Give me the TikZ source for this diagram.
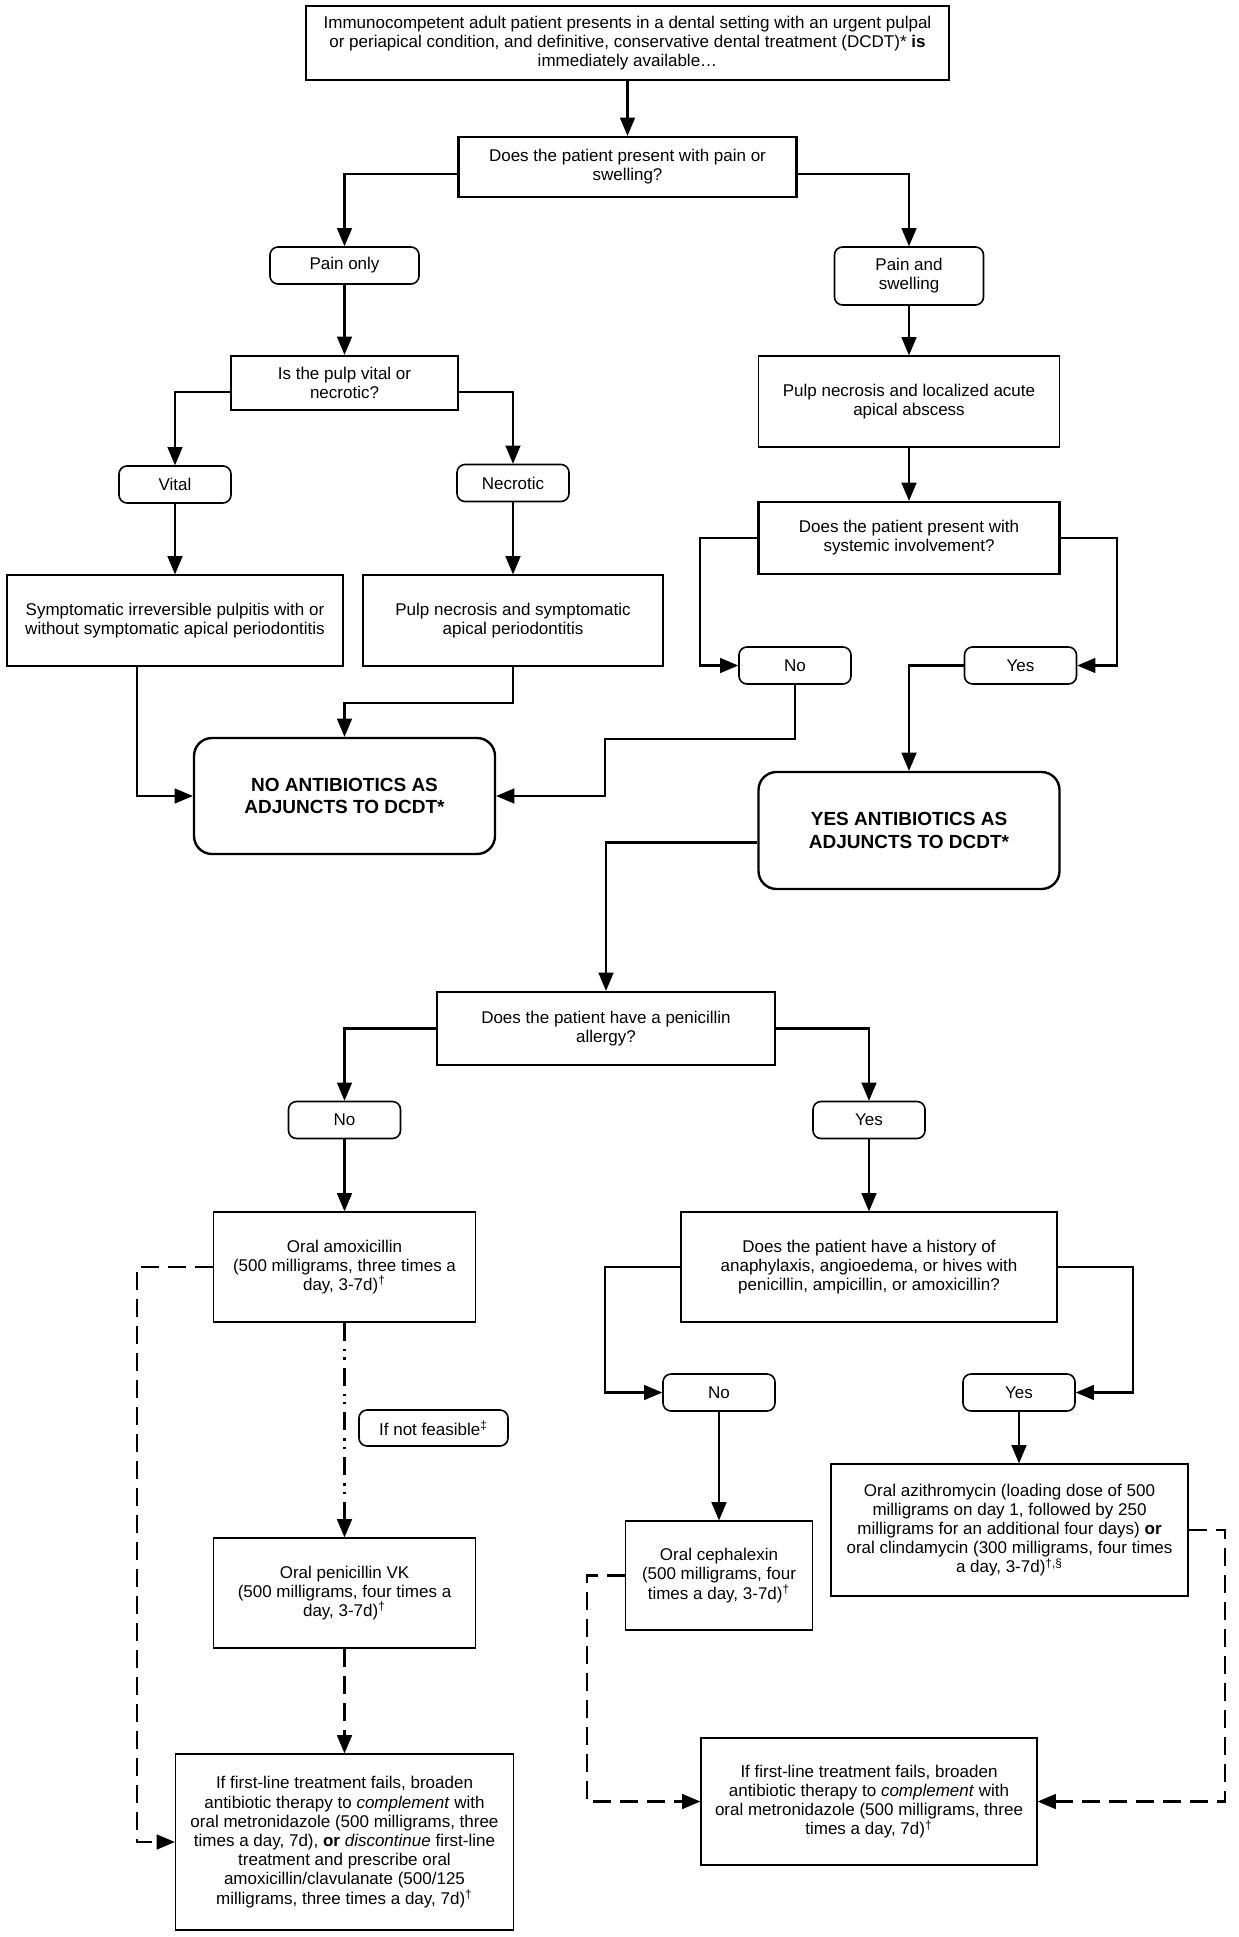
\documentclass[tikz,border=0pt]{standalone}
\usepackage{fontspec}
\setmainfont{Liberation Sans}
\usetikzlibrary{arrows}

\begin{document}
\begin{tikzpicture}[
x={(0.5pt,0)}, y={(0,-0.5pt)},
font=\fontsize{8.5}{9.6}\selectfont,
>=triangle 45,
  quest/.style = {rectangle, draw, line width=1.2pt,% questions
                  align=center, inner sep=2pt},
   info/.style = {rectangle, draw, line width=0.7pt,% diagnoses and drugs
                  align=center, inner sep=2pt},
    ans/.style = {rectangle, draw, rounded corners=4pt, line width=0.8pt,% answers
                  align=center, minimum width=56pt, minimum height=18.5pt},
 result/.style = {rectangle, draw, rounded corners=9pt, line width=1.2pt,
                  align=center, minimum width=150.5pt, minimum height=58pt,
                  font=\fontsize{9.5}{11.4}\selectfont\bfseries},
   link/.style = {->, line width=1.1pt},
   fail/.style = {->, line width=1.1pt, dash pattern=on 9pt off 4.5pt},
    alt/.style = {->, line width=1.1pt,
                  dash pattern=on 9pt off 4pt on 1.2pt off 3pt on 1.2pt off 4pt},
                        ]
\useasboundingbox (0,0) rectangle (1238,1937);
% top of the chart
\node[quest, minimum width=321.5pt, minimum height=37pt] (start) at (627.5,43)
  {Immunocompetent adult patient presents in a dental setting with an urgent pulpal\\
   or periapical condition, and definitive, conservative dental treatment (DCDT)* \textbf{is}\\
   immediately available\ldots};
\node[quest, minimum width=169pt, minimum height=30pt] (pain) at (627.5,167)
  {Does the patient present with pain or\\ swelling?};
\node[ans, minimum width=74.5pt] (painonly) at (344.5,265.5) {Pain only};
\node[ans, minimum width=74.5pt, minimum height=29pt] (painswell) at (909,276) {Pain and\\ swelling};
\node[quest, minimum width=113.5pt, minimum height=27pt] (pulp) at (344.5,383)
  {Is the pulp vital or\\ necrotic?};
\node[info, minimum width=150.5pt, minimum height=45.5pt] (abscess) at (909,401.5)
  {Pulp necrosis and localized acute\\ apical abscess};
\node[quest, minimum width=150.5pt, minimum height=36pt] (systemic) at (909,538)
  {Does the patient present with\\ systemic involvement?};
% yes / no answers
\foreach \nm/\x/\y/\txt in {vital/175/484.5/Vital, necro/513/483/Necrotic,
                            sysno/795/665.5/No, sysyes/1020.5/665.5/Yes,
                            penno/344.5/1120/No, penyes/869/1120/Yes,
                            anano/719/1392.5/No, anayes/1019/1392.5/Yes}
    \node[ans] (\nm) at (\x,\y) {\txt};
\node[info, minimum width=168pt, minimum height=45.5pt] (irrev) at (175,620.5)
  {Symptomatic irreversible pulpitis with or\\ without symptomatic apical periodontitis};
\node[info, minimum width=150pt, minimum height=45.5pt] (necsym) at (513,620.5)
  {Pulp necrosis and symptomatic\\ apical periodontitis};
\node[result] (noab) at (344.5,796) {NO ANTIBIOTICS AS\\ ADJUNCTS TO DCDT*};
\node[result, minimum height=58.5pt] (yesab) at (909,830.5) {YES ANTIBIOTICS AS\\ ADJUNCTS TO DCDT*};
% antibiotic choice
\node[quest, minimum width=169pt, minimum height=36.5pt] (allergy) at (606,1028.5)
  {Does the patient have a penicillin\\ allergy?};
\node[info, minimum width=131pt, minimum height=55pt] (amox) at (344.5,1267)
  {Oral amoxicillin\\ (500 milligrams, three times a\\ day, 3-7d)\textsuperscript{\textdagger}};
\node[info, minimum width=188pt, minimum height=55pt] (history) at (869,1267)
  {Does the patient have a history of\\ anaphylaxis, angioedema, or hives with\\
   penicillin, ampicillin, or amoxicillin?};
\node[ans, minimum width=74.5pt, minimum height=18pt] (feasible) at (433.5,1428)
  {If not feasible\textsuperscript{\textdaggerdbl}};
\node[info, minimum width=178.5pt, minimum height=66pt] (azi) at (1009.5,1530)
  {Oral azithromycin (loading dose of 500\\ milligrams on day 1, followed by 250\\
   milligrams for an additional four days) \textbf{or}\\
   oral clindamycin (300 milligrams, four times\\ a day, 3-7d)\textsuperscript{\textdagger,\textsection}};
\node[info, minimum width=93.5pt, minimum height=54.5pt] (ceph) at (719,1575.5)
  {Oral cephalexin\\ (500 milligrams, four\\ times a day, 3-7d)\textsuperscript{\textdagger}};
\node[info, minimum width=131pt, minimum height=55pt] (penvk) at (344.5,1593)
  {Oral penicillin VK\\ (500 milligrams, four times a\\ day, 3-7d)\textsuperscript{\textdagger}};
\node[info, minimum width=169pt, minimum height=88pt] (metroL) at (344.5,1842)
  {If first-line treatment fails, broaden\\ antibiotic therapy to \emph{complement} with\\
   oral metronidazole (500 milligrams, three\\
   times a day, 7d), \textbf{or} \emph{discontinue} first-line\\
   treatment and prescribe oral\\ amoxicillin/clavulanate (500/125\\
   milligrams, three times a day, 7d)\textsuperscript{\textdagger}};
\node[info, minimum width=168pt, minimum height=63.5pt] (metroR) at (869,1801.5)
  {If first-line treatment fails, broaden\\ antibiotic therapy to \emph{complement} with\\
   oral metronidazole (500 milligrams, three\\ times a day, 7d)\textsuperscript{\textdagger}};
% connectors
\draw[link] (start) -- (pain);
\draw[link] ([yshift=-3.5pt]pain.west) -| (painonly);
\draw[link] ([yshift=-3.5pt]pain.east) -| (painswell);
\draw[link] (painonly) -- (pulp);
\draw[link] (painswell) -- (abscess);
\draw[link] (abscess) -- (systemic);
\draw[link] ([yshift=-4.5pt]pulp.west) -| (vital);
\draw[link] ([yshift=-4.5pt]pulp.east) -| (necro);
\draw[link] (vital) -- (irrev);
\draw[link] (necro) -- (necsym);
\draw[link] ([xshift=-19pt]irrev.south) |- (noab);
\draw[link] (necsym.south) -- ++(0,36) -| (noab);
\draw[link] (systemic.west) -- ++(-57,0) |- (sysno);
\draw[link] (systemic.east) -- ++(56,0) |- (sysyes);
\draw[link] (sysno.south) -- ++(0,54) -- ++(-190,0) |- (noab);
\draw[link] (sysyes.west) -| (yesab);
\draw[link] ([yshift=-6pt]yesab.west) -| (allergy);
\draw[link] (allergy.west) -| (penno);
\draw[link] (allergy.east) -| (penyes);
\draw[link] (penno) -- (amox);
\draw[link] (penyes) -- (history);
\draw[link] (history.west) -- ++(-75,0) |- (anano);
\draw[link] (history.east) -- ++(75,0) |- (anayes);
\draw[link] (anano) -- (ceph);
\draw[link] (anayes) -- (anayes |- azi.north);
\draw[alt] (amox) -- (penvk);
\draw[fail] (penvk) -- (metroL);
\draw[fail] (amox.west) -- ++(-76,0) |- (metroL);
\draw[fail] (ceph.west) -- ++(-38,0) |- (metroR);
\draw[fail] (azi.east) -- ++(36,0) |- (metroR);
\end{tikzpicture}
\end{document}
